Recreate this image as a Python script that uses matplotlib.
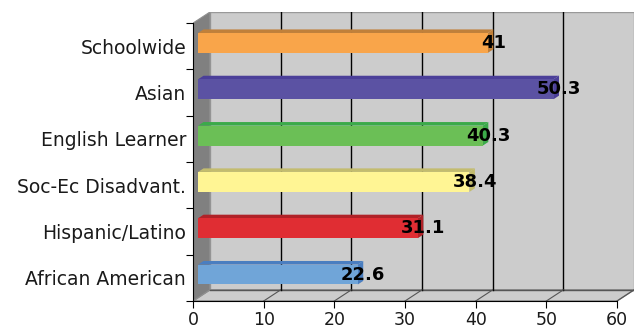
import matplotlib
matplotlib.use("Agg")
import matplotlib.pyplot as plt
from matplotlib.patches import Polygon, Rectangle


# data, bottom to top
categories = ["African American", "Hispanic/Latino", "Soc-Ec Disadvant.",
              "English Learner", "Asian", "Schoolwide"]
values = [22.6, 31.1, 38.4, 40.3, 50.3, 41]
front_colors = ["#70a5d8", "#e02d33", "#fff594", "#6bbf56", "#5b52a3", "#f9a54a"]
top_colors = ["#4a7ec0", "#b02228", "#c3bc6e", "#3baa4a", "#4b3f99", "#c0803a"]
x_ticks = [0, 10, 20, 30, 40, 50, 60]

# fake 3d depth (data units)
DX, DY = 2.4, 0.24
F0, F1 = 0.3, 0.62
BAR_H = 0.43
XMAX = 60
N = len(categories)

fig = plt.figure(figsize=(6.37, 3.29), dpi=100)
ax = fig.add_axes([193 / 637, 28 / 329, 441 / 637, 289 / 329])
ax.set_xlim(0, XMAX + DX)
ax.set_ylim(0, N + DY)
ax.patch.set_alpha(0)

# walls and floor
ax.add_patch(Rectangle((DX, DY), XMAX, N, facecolor="#cccccc",
                       edgecolor="#999999", lw=1, zorder=1))
ax.add_patch(Polygon([(0, 0), (XMAX, 0), (XMAX + DX, DY), (DX, DY)],
                     facecolor="#cccccc", edgecolor="#888888", lw=1, zorder=1))
ax.add_patch(Polygon([(0, 0), (DX, DY), (DX, N + DY), (0, N)],
                     facecolor="#808080", edgecolor="#909090", lw=0.8, zorder=2))
ax.plot([DX, XMAX + DX], [DY, DY], color="#555555", lw=1, zorder=2)

for t in x_ticks[1:]:
    if t < XMAX:
        ax.plot([t + DX, t + DX], [DY, N + DY], color="black", lw=1, zorder=2)
    ax.plot([t, t + DX], [0, DY], color="#555555", lw=0.8, zorder=2)

# bars
for i, (v, fc, tc) in enumerate(zip(values, front_colors, top_colors)):
    x0, x1 = F0 * DX, F1 * DX
    y0 = i + 0.5 - BAR_H / 2 + F0 * DY
    y1 = i + 0.5 - BAR_H / 2 + F1 * DY
    ax.add_patch(Polygon([(x0, y0 + BAR_H), (x0 + v, y0 + BAR_H),
                          (x1 + v, y1 + BAR_H), (x1, y1 + BAR_H)],
                         facecolor=tc, edgecolor="none", zorder=3))
    ax.add_patch(Polygon([(x0 + v, y0), (x0 + v, y0 + BAR_H),
                          (x1 + v, y1 + BAR_H), (x1 + v, y1)],
                         facecolor=tc, edgecolor="none", zorder=3))
    ax.add_patch(Rectangle((x0, y0), v, BAR_H, facecolor=fc,
                           edgecolor="none", zorder=4))
    label = f"{v:g}"
    ax.text(x1 + v, y0 + BAR_H / 2, label, ha="center", va="center",
            fontsize=13, fontweight="bold", color="black", zorder=5)

# axes
for side in ["top", "right"]:
    ax.spines[side].set_visible(False)
ax.spines["left"].set_bounds(0, N)
ax.spines["bottom"].set_bounds(0, XMAX)
ax.spines["left"].set_zorder(6)
ax.spines["bottom"].set_zorder(6)

ax.set_yticks(range(N + 1))
ax.set_yticklabels([])
ax.set_yticks([i + 0.5 for i in range(N)], minor=True)
ax.set_yticklabels(categories, minor=True, fontsize=13.5, color="#1a1a1a")
ax.tick_params(axis="y", which="major", length=5, direction="out")
ax.tick_params(axis="y", which="minor", length=0, pad=5)

ax.set_xticks(x_ticks)
ax.set_xticklabels([str(t) for t in x_ticks], fontsize=12.5, color="#1a1a1a")
ax.tick_params(axis="x", length=5, direction="out", pad=2)

fig.savefig("out.png", dpi=100)
